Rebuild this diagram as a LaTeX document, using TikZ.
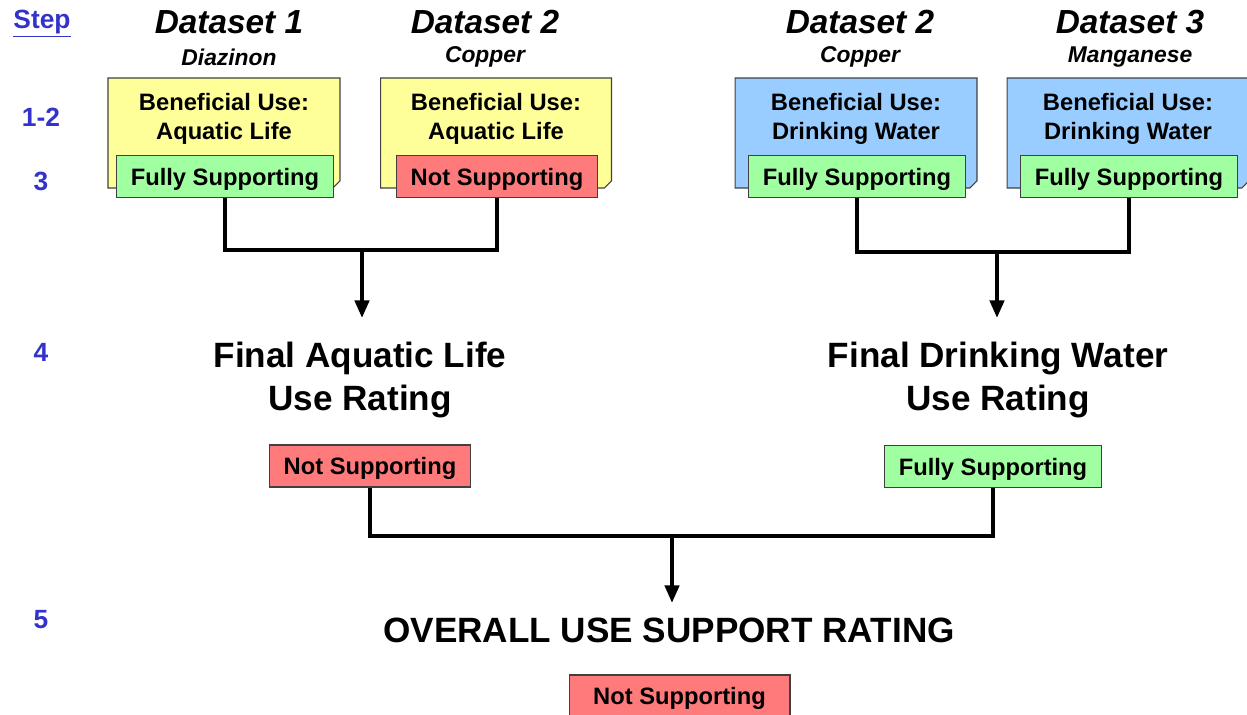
\documentclass[tikz,border=0pt]{standalone}
\usepackage{fontspec}
\setmainfont{Liberation Sans}
\usetikzlibrary{arrows.meta,shapes.misc}

\begin{document}
\begin{tikzpicture}[x=0.02cm,y=-0.02cm,
  usebox/.style={chamfered rectangle,chamfered rectangle corners=south east,
    chamfered rectangle xsep=2pt,chamfered rectangle ysep=2pt,
    draw=edgegray,line width=0.6pt,minimum height=2.2cm},
  ratebox/.style={draw=edgegray,line width=0.6pt,inner xsep=8pt,minimum height=0.84cm,
    text depth=0pt,font=\fontsize{13.5}{15}\selectfont\bfseries},
  usetext/.style={align=center,font=\fontsize{13.5}{16.4}\selectfont\bfseries},
  dshead/.style={font=\fontsize{19}{21}\selectfont\bfseries\itshape},
  chemhead/.style={font=\fontsize{13}{15}\selectfont\bfseries\itshape},
  steplbl/.style={text=stepblue,font=\fontsize{15}{17}\selectfont\bfseries},
  bigtitle/.style={align=center,font=\fontsize{20}{25}\selectfont\bfseries},
  conn/.style={line width=2.3pt,line join=miter},
  connarrow/.style={conn,-{Triangle[length=10pt,width=8pt]}}]
\definecolor{edgegray}{HTML}{404040}
\definecolor{stepblue}{HTML}{3333CC}
\definecolor{aquayellow}{HTML}{FFFF99}
\definecolor{drinkblue}{HTML}{99CCFF}
\definecolor{fullgreen}{HTML}{A0FFA0}
\definecolor{notred}{HTML}{FF7B7B}
\useasboundingbox (0,0) rectangle (1247,714);

% step column
\node[steplbl] (stephead) at (42,24) {\underline{Step}};
\foreach \lbl/\py in {1-2/117,3/181,4/352,5/620}
  { \node[steplbl] (step\lbl) at (41,\py) {\lbl}; }

% datasets: header, beneficial use, rating
\foreach \n/\hx/\cx/\w/\ds/\chem/\crlr/\use/\rcrlr/\rate in
  {a/229/224/4.64/1/Diazinon/aquayellow/Aquatic Life/fullgreen/Fully Supporting,
   b/485/496/4.62/2/Copper/aquayellow/Aquatic Life/notred/Not Supporting,
   c/860/856/4.84/2/Copper/drinkblue/Drinking Water/fullgreen/Fully Supporting,
   d/1130/1128/4.84/3/Manganese/drinkblue/Drinking Water/fullgreen/Fully Supporting}
  { \node[dshead] (ds\n) at (\hx,22) {Dataset \ds};
    \node[chemhead] (chem\n) at (\hx,57) {\chem};
    \node[usebox,fill=\crlr,minimum width=\w cm] (use\n) at (\cx,133) {};
    \node[usetext] (usetxt\n) at (\cx,119) {Beneficial Use:\\\use};
    \node[ratebox,fill=\rcrlr] (rate\n) at (\cx+1,176.5) {\rate}; }

% step 4
\node[bigtitle] (finA) at (360,380) {Final Aquatic Life\\Use Rating};
\node[bigtitle] (finB) at (998,380) {Final Drinking Water\\Use Rating};
\node[ratebox,fill=notred] (rfA) at (370,466) {Not Supporting};
\node[ratebox,fill=fullgreen] (rfB) at (993,466.5) {Fully Supporting};

% step 5
\node[bigtitle] (overall) at (669,630) {OVERALL USE SUPPORT RATING};
\node[ratebox,fill=notred,minimum width=4.42cm] (rfAll) at (679.5,696) {Not Supporting};

% connectors
\coordinate (jA) at (362,250);
\coordinate (tA) at (362,318);
\coordinate (jB) at (997,252);
\coordinate (tB) at (997,318);
\coordinate (jC) at (672,536);
\coordinate (tC) at (672,603);
\draw[conn] (ratea.south) |- (jA) -| (rateb.south);
\draw[connarrow] (jA) -- (tA);
\draw[conn] (ratec.south) |- (jB) -| (rated.south);
\draw[connarrow] (jB) -- (tB);
\draw[conn] (rfA.south) |- (jC) -| (rfB.south);
\draw[connarrow] (jC) -- (tC);
\end{tikzpicture}
\end{document}
